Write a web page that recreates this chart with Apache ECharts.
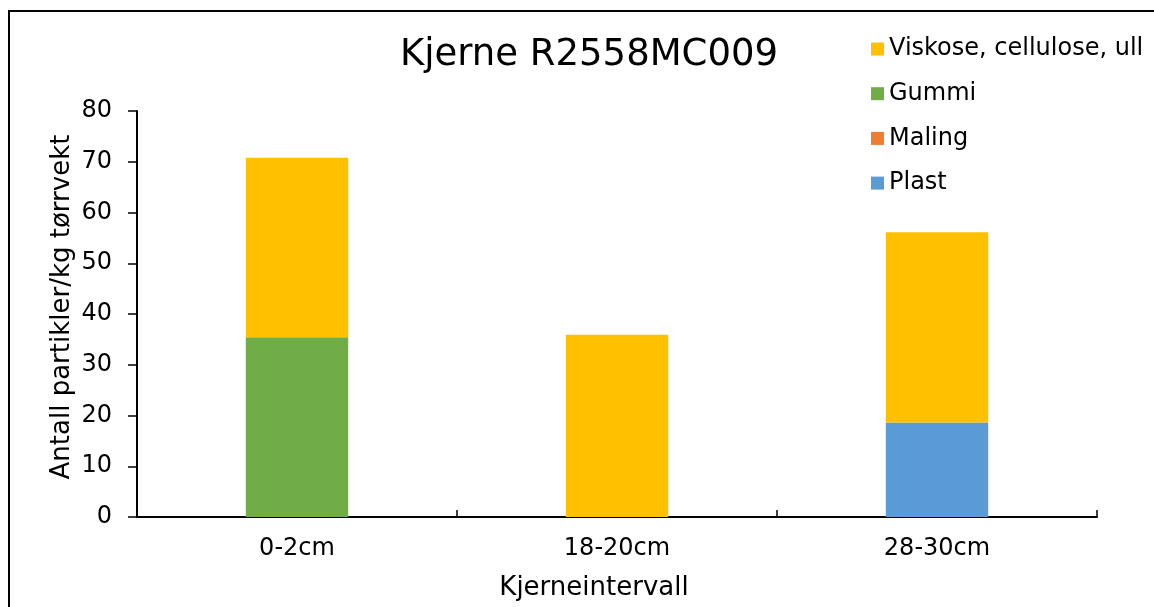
<!DOCTYPE html>
<html>
<head>
<meta charset="utf-8">
<script src="https://cdn.jsdelivr.net/npm/echarts@6/dist/echarts.min.js"></script>
<style>
html,body{margin:0;padding:0;background:#fff;}
#c{width:1154px;height:607px;}
</style>
</head>
<body>
<div id="c"></div>
<script>
const categories = ['0-2cm', '18-20cm', '28-30cm'];
const plast = [0, 0, 18.6];
const maling = [0, 0, 0];
const gummi = [35.4, 0, 0];
const viskose = [35.4, 35.9, 37.5];
const yTicks = [0, 10, 20, 30, 40, 50, 60, 70, 80];

const FONT = 'DejaVu Sans';
const chart = echarts.init(document.getElementById('c'), null, {renderer: 'canvas'});
const mk = (name, data, color) => ({
  name, type: 'bar', stack: 'a', data,
  itemStyle: {color},
  barCategoryGap: '68%',
  emphasis: {disabled: true}
});
chart.setOption({
  animation: false,
  textStyle: {fontFamily: FONT, color: '#000'},
  graphic: [{
    type: 'rect', shape: {x: 9, y: 11, width: 1200, height: 700},
    style: {fill: 'none', stroke: '#000', lineWidth: 2}, silent: true
  }],
  title: {
    text: 'Kjerne R2558MC009',
    left: 584, top: 32, textAlign: 'center',
    textStyle: {fontFamily: FONT, fontSize: 37, fontWeight: 'normal', color: '#000'}
  },
  legend: {
    orient: 'vertical', left: 866, top: 32,
    itemWidth: 13, itemHeight: 13, itemGap: 20.7,
    icon: 'rect',
    data: ['Viskose, cellulose, ull', 'Gummi', 'Maling', 'Plast'],
    textStyle: {fontFamily: FONT, fontSize: 24, lineHeight: 24, color: '#000'}
  },
  grid: {left: 137, right: 57, top: 111, bottom: 90},
  xAxis: {
    type: 'category', data: categories,
    name: 'Kjerneintervall', nameLocation: 'middle', nameGap: 58, nameMoveOverlap: false,
    nameTextStyle: {fontFamily: FONT, fontSize: 26, color: '#000', padding: [0, 46, 0, 0]},
    axisLine: {lineStyle: {color: '#000', width: 2}},
    axisTick: {show: true, inside: true, length: 7, lineStyle: {color: '#000', width: 1.5}},
    axisLabel: {fontFamily: FONT, fontSize: 24, color: '#000', margin: 20}
  },
  yAxis: {
    type: 'value', min: 0, max: 80, interval: 10,
    name: 'Antall partikler/kg tørrvekt', nameLocation: 'middle', nameGap: 62, nameMoveOverlap: false,
    nameTextStyle: {fontFamily: FONT, fontSize: 26, color: '#000', padding: [0, 0, 0, 14]},
    axisLine: {show: true, lineStyle: {color: '#000', width: 2}},
    axisTick: {show: true, length: 9, lineStyle: {color: '#000', width: 1.5}},
    splitLine: {show: false},
    axisLabel: {fontFamily: FONT, fontSize: 24, color: '#000', margin: 25,
      formatter: v => yTicks.includes(v) ? String(v) : ''}
  },
  series: [
    mk('Plast', plast, '#5B9BD5'),
    mk('Maling', maling, '#ED7D31'),
    mk('Gummi', gummi, '#70AD47'),
    mk('Viskose, cellulose, ull', viskose, '#FFC000')
  ]
});
</script>
</body>
</html>
